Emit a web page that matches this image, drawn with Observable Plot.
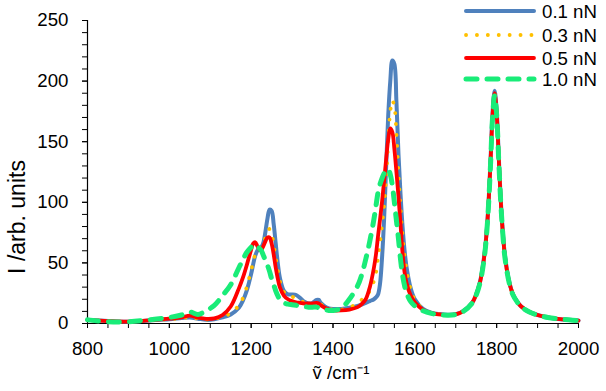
<!DOCTYPE html>
<html>
<head>
<meta charset="utf-8">
<script src="https://cdn.jsdelivr.net/npm/d3@7"></script>
<script src="https://cdn.jsdelivr.net/npm/@observablehq/plot@0.6"></script>
<style>
  html, body { margin: 0; padding: 0; background: #fff; }
  #chart { position: relative; width: 606px; height: 391px; }
</style>
</head>
<body>
<div id="chart"></div>
<script>
// Wavenumber grid (cm^-1)
const wavenumber = [
  800, 850, 900, 950, 1000,
  1030, 1050, 1070, 1090, 1110, 1130, 1150, 1170,
  1180, 1190, 1200,
  1205, 1210, 1215, 1220, 1225, 1230, 1235, 1240, 1245, 1250, 1255, 1260, 1265, 1270,
  1280, 1290, 1300, 1310, 1320, 1330, 1340, 1350, 1360,
  1365, 1370, 1380, 1390, 1400,
  1420, 1440, 1460, 1470, 1480, 1490, 1500,
  1505, 1510, 1515, 1520, 1525, 1530, 1535, 1540, 1545, 1550, 1555, 1560, 1565, 1570, 1575, 1580,
  1590, 1600, 1620, 1640, 1660, 1680, 1700, 1720, 1740, 1750, 1760, 1770,
  1775, 1780, 1785, 1790, 1795, 1800, 1805, 1810, 1815, 1820,
  1830, 1840, 1850, 1860, 1880, 1900, 1925, 1950, 1975, 2000
];

const series01 = [
  3, 2, 1.5, 2.5, 3.5,
  4.5, 5, 4, 3, 3.5, 5, 7.5, 13,
  19, 28, 41,
  49, 56, 60, 62, 63, 67, 76, 87, 94, 93, 82, 66, 50, 38,
  27, 24, 24, 23.5, 21, 18, 16.5, 17, 19.5,
  19.5, 17, 14, 12.5, 12,
  12, 13, 14.5, 15.5, 17, 18.5, 20,
  21.5, 24, 33, 55, 87, 130, 172, 200, 217, 214, 183, 140, 107, 80, 60, 46,
  29, 20, 12, 9, 7.8, 7.2, 7.6, 10.6, 17, 24, 35.5, 57,
  74, 99, 135, 174, 192, 176, 139, 102, 76, 57,
  35.5, 24, 18, 14, 9.5, 7, 5, 3.8, 3, 2.4
];

const series03 = [
  3, 2, 1.5, 2.5, 3.5,
  4.5, 5.2, 4, 3.2, 4, 5.5, 8.5, 15,
  21, 31, 44,
  51, 57, 61, 62, 63, 66, 71, 76.5, 78, 74, 65, 54, 44, 35,
  26, 22.5, 22, 21, 19.5, 17, 15.5, 16, 18,
  18, 16, 13.5, 12, 11.5,
  11.5, 13, 17, 19.5, 22, 27, 35,
  42, 54, 67, 82, 98, 120, 150, 175, 184, 179, 157, 124, 96, 73, 56, 44,
  28, 19.5, 11.8, 8.8, 7.6, 7.1, 7.5, 10.5, 17, 24, 35, 56,
  73, 98, 133, 172, 190, 174, 137, 101, 75, 56,
  35, 24, 18, 14, 9.5, 7, 5, 3.8, 3, 2.4
];

const series05 = [
  3, 2, 1.5, 2.5, 4,
  5, 6.5, 4.8, 3.8, 4.2, 7, 14, 29,
  38, 49, 61,
  66, 67, 64, 61, 61, 64, 68, 71, 71, 66, 57, 46, 37, 30,
  23, 20, 18.5, 17.5, 17, 16.5, 16.5, 16.5, 17,
  16.5, 15, 13, 11.5, 10.8,
  10.8, 11.5, 13.5, 16, 20, 30, 46,
  57, 72, 86, 101, 118, 136, 152, 161, 158, 144, 125, 105, 82, 58, 42, 33,
  23, 17.5, 11.3, 8.6, 7.5, 7, 7.5, 10.5, 17, 24, 35, 56,
  73, 98, 133, 172, 190, 174, 137, 101, 75, 56,
  35, 24, 18, 14, 9.5, 7, 5, 3.8, 3, 2.4
];

const series10 = [
  3, 1.5, 1.5, 3, 5,
  7, 9.5, 7.5, 10.5, 15, 23, 32, 46,
  53, 59, 63,
  64.5, 65, 64, 62, 60, 56, 52, 48, 43, 37, 32, 27, 23, 20,
  17, 16, 15.5, 15, 14.5, 14, 13.5, 13.5, 13.5,
  13, 12.5, 11.5, 10.8, 10.7,
  12.5, 20, 31, 40, 53, 68, 86,
  97, 108, 115, 120, 124, 127, 127, 123, 114, 100, 85, 70, 53, 40, 31, 25,
  18, 14.5, 10.5, 8.3, 7.3, 6.9, 7.4, 10.4, 16.8, 23.5, 34.5, 55,
  72, 97, 131, 170, 188, 172, 135, 100, 74, 55,
  34.5, 23.5, 17.8, 13.8, 9.4, 7, 5, 3.8, 3, 2.4
];

const seriesNames = ["0.1 nN", "0.3 nN", "0.5 nN", "1.0 nN"];
const seriesValues = [series01, series03, series05, series10];

const xTicks = [800, 1000, 1200, 1400, 1600, 1800, 2000];
const xMinorTicks = d3.range(800, 2001, 50);
const yTicks = [0, 50, 100, 150, 200, 250];
const yMinorTicks = d3.range(0, 251, 10);

const styles = [
  {stroke: "#4F81BD", strokeWidth: 4, strokeDasharray: null, strokeLinecap: "round"},
  {stroke: "#FFC000", strokeWidth: 3.8, strokeDasharray: "0.1,10.8", strokeLinecap: "round"},
  {stroke: "#FF0000", strokeWidth: 3.8, strokeDasharray: null, strokeLinecap: "round"},
  {stroke: "#19EC78", strokeWidth: 5, strokeDasharray: "11,10", strokeLinecap: "round"}
];

const tables = seriesValues.map((vals, k) =>
  wavenumber.map((x, i) => ({x, y: vals[i], s: seriesNames[k]}))
);

const svg = Plot.plot({
  width: 606,
  height: 391,
  marginLeft: 87,
  marginRight: 28,
  marginTop: 20,
  marginBottom: 68,
  style: {fontFamily: "'Liberation Sans', Arial, sans-serif", fontSize: "18.67px", color: "#000", background: "#fff", overflow: "visible"},
  x: {domain: [800, 2000]},
  y: {domain: [0, 250]},
  marks: [
    Plot.axisX({ticks: xMinorTicks, tickSize: 5, tickFormat: () => "", label: null, stroke: "#000"}),
    Plot.axisX({ticks: xTicks, tickSize: 5, tickPadding: 13, tickFormat: d => String(d), label: null, stroke: "#000"}),
    Plot.axisY({ticks: yMinorTicks, tickSize: 5, tickFormat: () => "", label: null, stroke: "#000"}),
    Plot.axisY({ticks: yTicks, tickSize: 5, tickPadding: 14, tickFormat: d => String(d), label: null, stroke: "#000"}),
    Plot.ruleX([800], {stroke: "#000", strokeWidth: 1.2}),
    Plot.ruleY([0], {stroke: "#000", strokeWidth: 1.2}),
    ...tables.map((t, k) => Plot.line(t, {
      x: "x", y: "y", curve: "catmull-rom",
      stroke: styles[k].stroke, strokeWidth: styles[k].strokeWidth,
      strokeDasharray: styles[k].strokeDasharray, strokeLinecap: styles[k].strokeLinecap,
      strokeLinejoin: "round"
    })),
    Plot.text(["I /arb. units"], {frameAnchor: "left", textAnchor: "middle", lineAnchor: "middle", rotate: -90, dx: -70, dy: 45, fontSize: 23}),
    Plot.text(["ṽ /cm⁻¹"], {frameAnchor: "bottom", textAnchor: "middle", dx: 8, dy: 55, fontSize: 18.67})
  ]
});

// Legend (top right, overlapping plot area)
const legendY = [11, 35, 58, 79];
const lg = d3.select(svg).append("g").attr("class", "legend");
seriesNames.forEach((name, k) => {
  const st = styles[k];
  lg.append("line")
    .attr("x1", 466).attr("x2", 534)
    .attr("y1", legendY[k]).attr("y2", legendY[k])
    .attr("stroke", st.stroke)
    .attr("stroke-width", st.strokeWidth)
    .attr("stroke-linecap", st.strokeLinecap)
    .attr("stroke-dasharray", st.strokeDasharray);
  lg.append("text")
    .attr("x", 542)
    .attr("y", legendY[k])
    .attr("dy", "0.35em")
    .attr("text-anchor", "start")
    .attr("font-size", 18.67)
    .attr("fill", "#000")
    .text(name);
});

document.getElementById("chart").appendChild(svg);
</script>
</body>
</html>
